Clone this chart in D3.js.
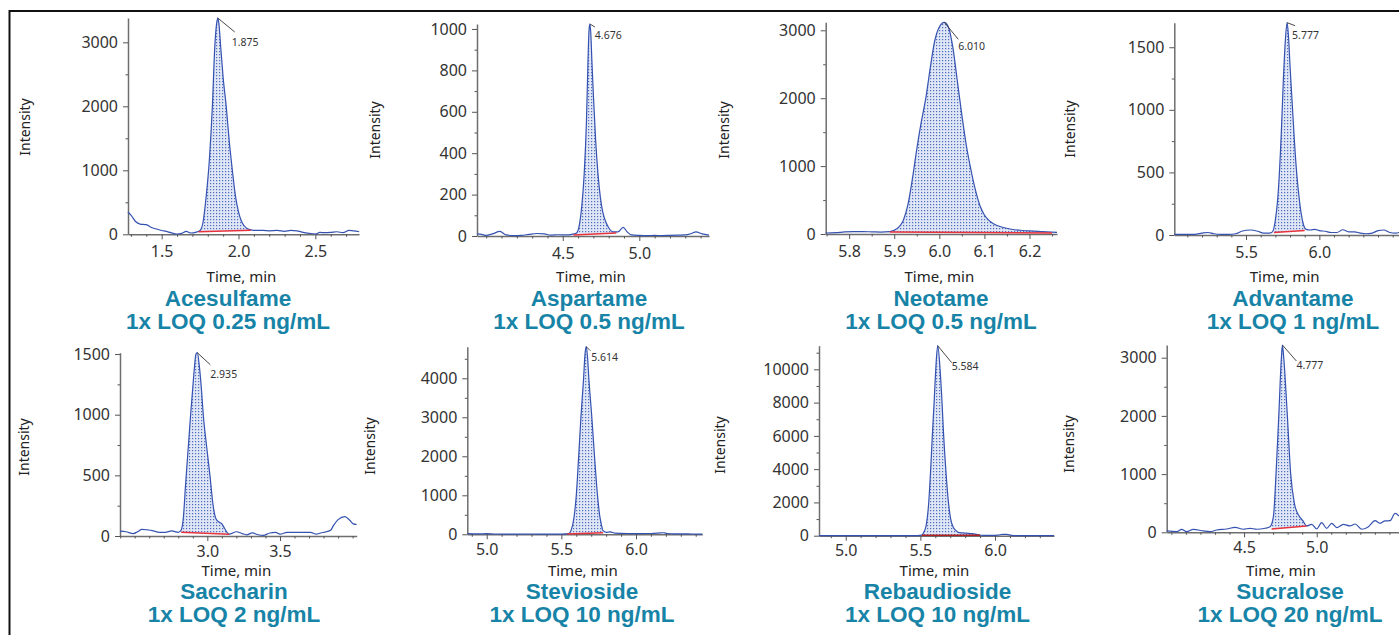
<!DOCTYPE html>
<html><head><meta charset="utf-8">
<script src="https://cdn.jsdelivr.net/npm/d3@7"></script>
<style>body{margin:0;background:#fff;}svg{display:block;}</style>
</head><body><svg id="c" width="1399" height="635"></svg>
<script>
// ---------- DATA ----------
const compounds = ["Acesulfame","Aspartame","Neotame","Advantame","Saccharin","Stevioside","Rebaudioside","Sucralose"];
const loqLabels = ["1x LOQ 0.25 ng/mL","1x LOQ 0.5 ng/mL","1x LOQ 0.5 ng/mL","1x LOQ 1 ng/mL","1x LOQ 2 ng/mL","1x LOQ 10 ng/mL","1x LOQ 10 ng/mL","1x LOQ 20 ng/mL"];
const peakRT = ["1.875","4.676","6.010","5.777","2.935","5.614","5.584","4.777"];
const xDomains = [[1.281,2.784],[3.94,5.455],[5.748,6.261],[5.011,6.543],[2.399,4.028],[4.87,6.444],[4.821,6.395],[3.968,5.566]];
const yMax = [3380,1024,3118,1696,1511,4810,11420,3218];
const yTicks = [[0,1000,2000,3000],[0,200,400,600,800,1000],[0,1000,2000,3000],[0,500,1000,1500],[0,500,1000,1500],[0,1000,2000,3000,4000],[0,2000,4000,6000,8000,10000],[0,1000,2000,3000]];
const xTicks = [[1.5,2.0,2.5],[4.5,5.0],[5.8,5.9,6.0,6.1,6.2],[5.5,6.0],[3.0,3.5],[5.0,5.5,6.0],[5.0,5.5,6.0],[4.5,5.0]];

const acesulfameTime = [1.28,1.30,1.33,1.36,1.40,1.43,1.47,1.50,1.53,1.56,1.60,1.63,1.66,1.69,1.72,1.75,1.77,1.79,1.81,1.83,1.845,1.858,1.865,1.872,1.885,1.90,1.92,1.94,1.96,1.98,2.00,2.02,2.05,2.08,2.12,2.16,2.20,2.25,2.30,2.34,2.38,2.42,2.46,2.50,2.53,2.56,2.60,2.64,2.68,2.72,2.75,2.785];
const acesulfameInt  = [345,300,200,160,150,110,80,60,45,25,5,15,45,20,30,60,200,600,1150,2000,2900,3300,3380,3300,2900,2450,2000,1450,1000,600,350,200,100,70,60,60,55,60,45,60,55,30,15,5,30,25,30,40,25,60,55,40];
const acesulfameBase = [[1.74,40],[2.08,65]];

const aspartameTime = [3.94,3.97,4.00,4.04,4.09,4.13,4.18,4.23,4.28,4.33,4.38,4.42,4.47,4.52,4.56,4.59,4.61,4.625,4.64,4.655,4.665,4.672,4.677,4.683,4.69,4.70,4.715,4.73,4.745,4.76,4.78,4.80,4.83,4.86,4.895,4.92,4.95,5.00,5.05,5.10,5.15,5.20,5.25,5.30,5.34,5.37,5.41,5.455];
const aspartameInt  = [10,8,3,10,22,5,2,3,8,12,10,4,6,5,8,15,60,150,300,560,850,1000,1024,980,850,680,460,300,190,120,70,40,20,20,42,20,5,3,2,3,2,3,4,5,12,20,10,4];
const aspartameBase = [[4.57,5],[4.85,15]];

const neotameTime = [5.748,5.77,5.79,5.81,5.83,5.85,5.87,5.89,5.90,5.91,5.92,5.93,5.94,5.95,5.96,5.97,5.98,5.99,6.00,6.011,6.02,6.03,6.04,6.05,6.06,6.07,6.08,6.09,6.10,6.11,6.12,6.14,6.16,6.18,6.20,6.22,6.24,6.261];
const neotameInt  = [15,20,30,35,35,32,28,35,55,100,200,420,800,1250,1650,2000,2450,2850,3050,3118,3050,2750,2250,1750,1300,950,650,420,280,200,150,100,70,55,45,40,30,25];
const neotameBase = [[5.89,30],[6.25,15]];

const advantameTime = [5.011,5.06,5.10,5.15,5.20,5.24,5.28,5.33,5.38,5.43,5.47,5.53,5.58,5.62,5.66,5.68,5.70,5.72,5.74,5.755,5.768,5.78,5.79,5.80,5.815,5.83,5.845,5.86,5.875,5.89,5.91,5.94,5.97,6.00,6.04,6.08,6.12,6.16,6.20,6.24,6.28,6.32,6.36,6.40,6.44,6.48,6.52,6.543];
const advantameInt  = [5,5,5,5,15,20,10,5,5,10,30,40,30,15,15,25,120,350,800,1250,1550,1696,1580,1350,1050,750,500,320,180,90,45,40,45,35,30,20,20,42,25,25,15,10,15,35,40,20,15,20];
const advantameBase = [[5.69,20],[5.90,35]];

const saccharinTime = [2.399,2.44,2.49,2.52,2.55,2.59,2.62,2.67,2.71,2.755,2.80,2.82,2.835,2.85,2.87,2.885,2.905,2.922,2.931,2.945,2.96,2.972,2.995,3.018,3.04,3.06,3.08,3.10,3.12,3.15,3.20,3.24,3.27,3.31,3.35,3.385,3.43,3.47,3.50,3.55,3.60,3.66,3.71,3.75,3.78,3.82,3.85,3.87,3.90,3.947,3.98,4.005,4.028];
const saccharinInt  = [40,35,20,35,55,50,45,30,30,42,30,50,150,420,750,1000,1300,1500,1511,1400,1200,1000,740,500,250,140,115,100,60,15,35,20,10,25,10,5,25,30,15,30,30,30,30,15,25,35,50,90,135,160,130,100,95];
const saccharinBase = [[2.82,30],[3.15,15]];

const steviosideTime = [4.87,4.95,5.00,5.05,5.10,5.20,5.30,5.40,5.50,5.549,5.565,5.587,5.60,5.616,5.631,5.649,5.658,5.667,5.675,5.684,5.704,5.722,5.742,5.756,5.768,5.778,5.80,5.827,5.86,5.90,5.95,6.00,6.05,6.10,6.15,6.182,6.21,6.26,6.30,6.35,6.40,6.444];
const steviosideInt  = [15,10,15,8,5,5,8,5,5,15,100,500,1000,2000,3000,4000,4600,4810,4550,4000,3000,2000,1000,500,250,100,50,60,30,25,20,15,20,20,30,40,20,10,10,10,5,5];
const steviosideBase = [[5.54,10],[5.78,40]];

const rebaudiosideTime = [4.821,4.90,5.00,5.10,5.20,5.30,5.40,5.48,5.509,5.525,5.536,5.556,5.569,5.58,5.592,5.603,5.616,5.632,5.645,5.656,5.67,5.688,5.703,5.721,5.74,5.754,5.78,5.81,5.85,5.877,5.92,5.97,6.02,6.05,6.08,6.11,6.15,6.25,6.395];
const rebaudiosideInt  = [10,10,10,10,10,10,10,10,30,250,500,2000,4000,6000,8000,10000,11420,10000,8000,6000,4000,2000,1000,500,300,200,170,150,120,80,20,15,40,80,80,20,10,10,10];
const rebaudiosideBase = [[5.51,30],[5.90,30]];

const sucraloseTime = [3.968,4.037,4.071,4.105,4.151,4.22,4.266,4.312,4.381,4.438,4.495,4.541,4.587,4.645,4.679,4.702,4.720,4.739,4.757,4.764,4.773,4.798,4.821,4.846,4.874,4.904,4.931,4.966,5.0,5.034,5.069,5.103,5.138,5.183,5.229,5.264,5.31,5.356,5.401,5.436,5.47,5.505,5.539,5.566];
const sucraloseInt  = [23,11,50,11,50,23,11,40,57,86,52,69,52,69,97,270,1000,2000,3000,3218,3000,2000,1000,500,300,200,110,137,57,166,69,155,80,137,109,143,52,97,200,155,195,200,326,280];
const sucraloseBase = [[4.69,57],[4.93,109]];

const traceTimes = [acesulfameTime,aspartameTime,neotameTime,advantameTime,saccharinTime,steviosideTime,rebaudiosideTime,sucraloseTime];
const traceInts  = [acesulfameInt,aspartameInt,neotameInt,advantameInt,saccharinInt,steviosideInt,rebaudiosideInt,sucraloseInt];
const baselines  = [acesulfameBase,aspartameBase,neotameBase,advantameBase,saccharinBase,steviosideBase,rebaudiosideBase,sucraloseBase];

// ---------- LAYOUT (positions only) ----------
const layout = [
 {l:128,   r:359,   t:18,    b:234.3, yl:30,   ylc:127, tc:228,  lbl:[17,14,14,28]},
 {l:477,   r:709,   t:24,    b:236,   yl:380,  ylc:130, tc:589,  lbl:[5,3,5,15]},
 {l:825.7, r:1057,  t:22.3,  b:234,   yl:729,  ylc:130, tc:941,  lbl:[14,17,14,28]},
 {l:1174.3,r:1399,  t:22.7,  b:235,   yl:1075, ylc:129, tc:1293, lbl:[8,3,5,16]},
 {l:120,   r:356.7, t:352.7, b:536,   yl:29,   ylc:447, tc:234,  lbl:[13,12,13,25]},
 {l:467.3, r:702.3, t:346.7, b:534.3, yl:375,  ylc:446, tc:582,  lbl:[4,4,5,14]},
 {l:819,   r:1054,  t:345.7, b:535.7, yl:725,  ylc:445, tc:937.5,lbl:[14,17,14,24]},
 {l:1166.7,r:1399,  t:345,   b:532.3, yl:1074, ylc:444, tc:1290, lbl:[14,16,14,24]}
];
const rowText = [{xlab:22.5, time:282, t1:306, t2:329},{xlab:20.7, time:575.5, t1:598.5, t2:622}];

const svg = d3.select("#c");
const FONT = "'Noto Sans', 'Open Sans', sans-serif";
const TEAL = "#1784a7";

const defs = svg.append("defs");
const pat = defs.append("pattern").attr("id","dots").attr("patternUnits","userSpaceOnUse").attr("width",3).attr("height",3);
pat.append("rect").attr("width",3).attr("height",3).attr("fill","#dfe6f6");
pat.append("rect").attr("width",1.2).attr("height",1.2).attr("fill","#4f6bbd");

// frame
svg.append("line").attr("x1",9.5).attr("x2",1399).attr("y1",11).attr("y2",11).attr("stroke","#111").attr("stroke-width",2);
svg.append("line").attr("x1",9.5).attr("x2",9.5).attr("y1",10).attr("y2",635).attr("stroke","#111").attr("stroke-width",2);

compounds.forEach((name, i) => {
  const L = layout[i];
  const row = rowText[i < 4 ? 0 : 1];
  const x = d3.scaleLinear().domain(xDomains[i]).range([L.l, L.r]);
  const y = d3.scaleLinear().domain([0, yMax[i]]).range([L.b, L.t]);
  const g = svg.append("g");
  const data = traceTimes[i].map((t, k) => [t, traceInts[i][k]]);
  const base = baselines[i];
  const baseAt = t => base[0][1] + (t - base[0][0]) * (base[1][1] - base[0][1]) / (base[1][0] - base[0][0]);

  const cid = "clip" + i;
  defs.append("clipPath").attr("id", cid).append("rect")
    .attr("x", x(base[0][0])).attr("width", x(base[1][0]) - x(base[0][0]))
    .attr("y", 0).attr("height", 635);

  const area = d3.area().curve(d3.curveMonotoneX)
    .x(d => x(d[0])).y1(d => y(d[1])).y0(d => y(baseAt(d[0])));
  g.append("path").datum(data).attr("d", area).attr("fill", "url(#dots)")
    .attr("clip-path", `url(#${cid})`);

  const yStep = yTicks[i][1] - yTicks[i][0];
  const yMinor = d3.range(0, yMax[i] + 1, yStep / 2).filter(v => !yTicks[i].includes(v));
  const xStep = xTicks[i][1] - xTicks[i][0];
  const xMinorStep = xStep >= 0.5 ? 0.1 : xStep / 2;
  const xMinor = d3.range(Math.ceil(xDomains[i][0] / xMinorStep) * xMinorStep, xDomains[i][1], xMinorStep)
    .filter(v => !xTicks[i].some(t => Math.abs(t - v) < 1e-6));

  const ax = g.append("g").attr("class","axis");
  ax.append("g").attr("transform", `translate(${L.l},0)`)
    .call(d3.axisLeft(y).tickValues(yTicks[i]).tickSize(5).tickSizeOuter(0).tickPadding(5).tickFormat(d3.format("d")));
  ax.append("g").attr("transform", `translate(${L.l},0)`)
    .call(d3.axisLeft(y).tickValues(yMinor).tickSize(2.5).tickSizeOuter(0).tickFormat(""))
    .select(".domain").remove();
  const xAx = ax.append("g").attr("transform", `translate(0,${L.b})`)
    .call(d3.axisBottom(x).tickValues(xTicks[i]).tickSize(5).tickSizeOuter(0).tickFormat(d3.format(".1f")));
  ax.append("g").attr("transform", `translate(0,${L.b})`)
    .call(d3.axisBottom(x).tickValues(xMinor).tickSize(2.5).tickSizeOuter(0).tickFormat(""))
    .select(".domain").remove();
  ax.selectAll(".domain").attr("stroke", "#6e6e6e").attr("stroke-width", 1.5);
  ax.selectAll(".tick line").attr("stroke", "#555").attr("stroke-width", 1);
  ax.selectAll(".tick text").attr("fill", "#333").style("font-family", FONT).style("font-size", "16px");
  xAx.selectAll(".tick text").attr("y", row.xlab).attr("dy", null);

  const line = d3.line().curve(d3.curveMonotoneX).x(d => x(d[0])).y(d => y(d[1]));
  g.append("path").datum(data).attr("d", line).attr("fill", "none")
    .attr("stroke", "#3552b0").attr("stroke-width", 1.2);

  g.append("line").attr("x1", x(base[0][0])).attr("y1", y(base[0][1]))
    .attr("x2", x(base[1][0])).attr("y2", y(base[1][1]))
    .attr("stroke", i === 6 ? "#b02020" : "#e8323c").attr("stroke-width", 1.5);

  const apex = data.reduce((a, b) => b[1] > a[1] ? b : a);
  const ax0 = x(apex[0]), ay0 = y(apex[1]);
  g.append("line").attr("x1", ax0).attr("y1", ay0).attr("x2", ax0 + L.lbl[0]).attr("y2", ay0 + L.lbl[1])
    .attr("stroke", "#333").attr("stroke-width", 0.9);
  g.append("text").attr("x", ax0 + L.lbl[2]).attr("y", ay0 + L.lbl[3]).text(peakRT[i])
    .attr("fill", "#333").style("font-family", FONT).style("font-size", "10.5px");

  g.append("text").attr("transform", `translate(${L.yl},${L.ylc}) rotate(-90)`).attr("text-anchor", "middle")
    .text("Intensity").attr("fill", "#222").style("font-family", FONT).style("font-size", "14px");
  g.append("text").attr("x", (L.l + L.r) / 2 - 2).attr("y", row.time).attr("text-anchor", "middle")
    .text("Time, min").attr("fill", "#222").style("font-family", FONT).style("font-size", "15px");

  g.append("text").attr("x", L.tc).attr("y", row.t1).attr("text-anchor", "middle").text(name)
    .attr("fill", TEAL).style("font-family", "'Liberation Sans', Arial, sans-serif").style("font-weight", "bold").style("font-size", "22.5px");
  g.append("text").attr("x", L.tc).attr("y", row.t2).attr("text-anchor", "middle").text(loqLabels[i])
    .attr("fill", TEAL).style("font-family", "'Liberation Sans', Arial, sans-serif").style("font-weight", "bold").style("font-size", "22.5px");
});
</script></body></html>
